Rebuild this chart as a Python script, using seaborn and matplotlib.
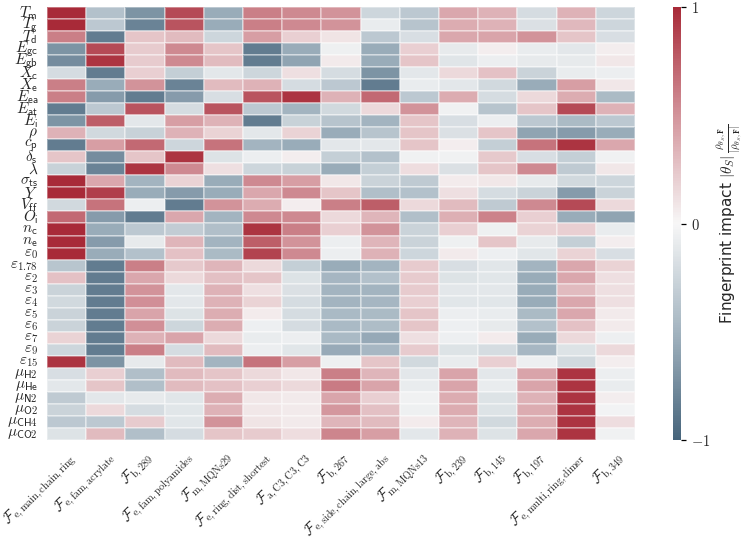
import numpy as np
import pandas as pd
import matplotlib
matplotlib.use("Agg")
import matplotlib.pyplot as plt
import seaborn as sns
from matplotlib.colors import LinearSegmentedColormap

# ---------------- data ----------------
row_labels = [
    r"$T_\mathsf{m}$", r"$T_\mathsf{g}$", r"$T_\mathsf{d}$", r"$E_\mathsf{gc}$", r"$E_\mathsf{gb}$",
    r"$X_\mathsf{c}$", r"$X_\mathsf{e}$", r"$E_\mathsf{ea}$", r"$E_\mathsf{at}$", r"$E_\mathsf{i}$",
    r"$\rho$", r"$c_\mathsf{p}$", r"$\delta_\mathsf{s}$", r"$\lambda$", r"$\sigma_\mathsf{ts}$",
    r"$Y$", r"$V_\mathsf{ff}$", r"$O_\mathsf{i}$", r"$n_\mathsf{c}$", r"$n_\mathsf{e}$",
    r"$\varepsilon_0$", r"$\varepsilon_{1.78}$", r"$\varepsilon_2$", r"$\varepsilon_3$", r"$\varepsilon_4$",
    r"$\varepsilon_5$", r"$\varepsilon_6$", r"$\varepsilon_7$", r"$\varepsilon_9$", r"$\varepsilon_{15}$",
    r"$\mu_\mathsf{H2}$", r"$\mu_\mathsf{He}$", r"$\mu_\mathsf{N2}$", r"$\mu_\mathsf{O2}$",
    r"$\mu_\mathsf{CH4}$", r"$\mu_\mathsf{CO2}$",
]

col_labels = [
    r"$\mathcal{F}_\mathrm{e,main,chain,ring}$",
    r"$\mathcal{F}_\mathrm{e,fam,acrylate}$",
    r"$\mathcal{F}_\mathrm{b,289}$",
    r"$\mathcal{F}_\mathrm{e,fam,polyamides}$",
    r"$\mathcal{F}_\mathrm{m,MQNs29}$",
    r"$\mathcal{F}_\mathrm{e,ring,dist,shortest}$",
    r"$\mathcal{F}_\mathrm{a,C3,C3,C3}$",
    r"$\mathcal{F}_\mathrm{b,267}$",
    r"$\mathcal{F}_\mathrm{e,side,chain,large,abs}$",
    r"$\mathcal{F}_\mathrm{m,MQNs13}$",
    r"$\mathcal{F}_\mathrm{b,239}$",
    r"$\mathcal{F}_\mathrm{b,145}$",
    r"$\mathcal{F}_\mathrm{b,197}$",
    r"$\mathcal{F}_\mathrm{e,multi,ring,dimer}$",
    r"$\mathcal{F}_\mathrm{b,349}$",
]

e_main_chain_ring = [1.0, 1.0, 0.6, -0.7, -0.75, -0.2, 0.6, 0.6, -0.85, -0.7, 0.35, -0.85, 0.25, -0.28,
                     1.0, 1.0, -0.22, 0.7, 1.0, 1.0, 1.0, -0.37, 0.27, -0.27, -0.22, -0.27, -0.27, 0.18,
                     -0.25, 0.95, -0.18, -0.12, -0.33, -0.27, -0.35, -0.15]
e_fam_acrylate = [-0.4, -0.35, -0.85, 0.85, 0.95, -0.85, -0.55, -0.65, -0.35, 0.75, -0.22, 0.45, -0.75, -0.8,
                  0.4, 0.9, 0.65, -0.65, -0.55, -0.65, -0.55, -0.85, -0.85, -0.85, -0.85, -0.85, -0.85, -0.85,
                  -0.85, -0.7, 0.2, 0.25, -0.12, 0.15, -0.35, 0.3]
b_289 = [-0.7, -0.8, 0.25, 0.22, 0.22, 0.2, 0.5, -0.85, 0.8, -0.12, -0.28, 0.7, 0.25, 0.95,
         -0.5, -0.55, -0.07, -0.85, -0.35, -0.1, -0.4, 0.6, 0.4, 0.5, 0.52, 0.42, 0.52, 0.35,
         0.6, -0.1, -0.42, -0.42, -0.1, -0.2, 0.22, -0.42]
e_fam_polyamides = [0.85, 0.8, 0.3, 0.55, 0.55, -0.3, -0.8, -0.65, -0.2, 0.45, 0.35, -0.25, 0.95, 0.55,
                    0.18, -0.65, -0.85, 0.4, -0.32, 0.33, 0.27, 0.23, 0.15, -0.12, -0.12, -0.15, -0.25, 0.42,
                    -0.2, 0.3, 0.3, 0.3, -0.13, -0.13, -0.13, -0.2]
m_MQNs29 = [-0.55, -0.55, -0.25, 0.25, 0.3, -0.12, 0.3, -0.18, 0.8, 0.35, 0.18, 0.65, -0.15, 0.12,
            -0.55, -0.55, 0.5, -0.5, -0.42, -0.5, -0.45, 0.33, 0.28, 0.35, 0.35, 0.37, 0.37, 0.15,
            0.3, -0.5, 0.25, 0.27, 0.37, 0.35, 0.5, 0.25]
e_ring_dist_shortest = [0.6, 0.6, 0.45, -0.85, -0.85, -0.25, 0.35, 0.8, -0.35, -0.85, -0.12, -0.5, -0.07, -0.25,
                        0.55, 0.4, 0.38, 0.55, 0.95, 0.75, 0.88, 0.15, 0.25, 0.12, 0.18, 0.06, -0.06, -0.08,
                        -0.07, 0.65, 0.15, 0.2, 0.08, 0.08, 0.1, 0.22]
a_C3_C3_C3 = [0.55, 0.55, 0.2, -0.55, -0.6, 0.12, -0.2, 0.95, -0.5, -0.28, 0.18, -0.55, 0.05, -0.28,
              0.45, 0.55, 0.05, 0.55, 0.6, 0.5, 0.55, -0.3, -0.15, -0.17, -0.2, -0.2, -0.2, -0.07,
              -0.13, 0.45, 0.08, 0.15, 0.07, 0.07, 0.07, 0.13]
b_267 = [0.5, 0.5, 0.1, -0.05, 0.07, -0.2, -0.35, 0.35, -0.22, -0.38, -0.55, -0.12, -0.3, -0.55,
         0.08, 0.25, 0.6, 0.15, 0.2, -0.07, -0.07, -0.55, -0.48, -0.5, -0.5, -0.46, -0.46, -0.46,
         -0.56, -0.05, 0.6, 0.61, 0.41, 0.48, 0.33, 0.57]
e_side_chain_large_abs = [-0.25, -0.08, -0.35, -0.55, -0.55, -0.7, -0.85, 0.7, 0.15, -0.5, -0.38, -0.12, -0.4, -0.3,
                          -0.27, -0.42, 0.75, 0.33, 0.5, 0.33, 0.35, -0.5, -0.4, -0.5, -0.48, -0.45, -0.43, -0.57,
                          -0.47, 0.25, 0.33, 0.42, 0.2, 0.28, 0.3, 0.45]
m_MQNs13 = [-0.35, -0.38, -0.18, 0.2, 0.25, -0.12, -0.08, -0.35, 0.5, 0.25, 0.25, 0.25, -0.04, 0.13,
            -0.33, -0.4, 0.15, -0.42, -0.27, -0.27, -0.25, 0.22, 0.22, 0.22, 0.2, 0.25, 0.25, 0.12,
            0.22, -0.22, -0.12, -0.08, -0.04, -0.05, 0.06, -0.12]
b_239 = [0.4, 0.38, 0.4, -0.1, -0.14, 0.15, -0.12, 0.38, -0.04, -0.18, -0.17, 0.05, -0.04, -0.17,
         0.06, 0.12, 0.3, 0.36, 0.2, -0.05, 0.07, -0.18, -0.15, -0.12, -0.13, -0.07, -0.06, -0.06,
         -0.15, -0.08, 0.42, 0.42, 0.38, 0.38, 0.33, 0.35]
b_145 = [0.35, 0.35, 0.42, 0.05, -0.07, 0.27, -0.22, -0.2, -0.38, -0.07, 0.25, -0.3, 0.23, 0.25,
         0.08, -0.2, -0.33, 0.58, -0.05, 0.25, -0.06, -0.13, -0.13, -0.12, -0.13, -0.08, -0.1, 0.06,
         -0.2, 0.2, -0.12, -0.08, -0.15, -0.15, -0.22, -0.15]
b_197 = [-0.2, -0.17, 0.5, -0.08, -0.1, -0.27, -0.55, 0.15, 0.25, -0.35, -0.6, 0.65, -0.18, 0.55,
         -0.1, -0.27, 0.55, 0.2, 0.18, -0.1, -0.13, -0.5, -0.55, -0.55, -0.55, -0.45, -0.4, -0.55,
         -0.47, -0.06, 0.42, 0.42, 0.35, 0.38, 0.37, 0.4]
e_multi_ring_dimer = [0.35, 0.32, 0.25, -0.12, -0.1, -0.08, 0.45, 0.38, 0.85, -0.45, -0.65, 0.95, -0.3, -0.33,
                      -0.22, -0.65, 0.85, -0.55, 0.2, -0.3, 0.18, 0.4, 0.4, 0.3, 0.4, 0.4, 0.27, 0.15,
                      -0.15, -0.22, 0.95, 0.95, 0.95, 0.95, 0.95, 0.95]
b_349 = [-0.25, -0.25, -0.18, 0.05, 0.08, -0.07, 0.08, -0.45, 0.35, -0.35, -0.55, 0.4, -0.04, 0.08,
         -0.25, -0.27, 0.15, -0.6, -0.08, 0.05, -0.18, 0.18, 0.12, 0.12, 0.12, 0.07, 0.07, -0.06,
         0.15, 0.05, -0.07, -0.08, 0.05, -0.03, 0.13, -0.04]

columns = [e_main_chain_ring, e_fam_acrylate, b_289, e_fam_polyamides, m_MQNs29,
           e_ring_dist_shortest, a_C3_C3_C3, b_267, e_side_chain_large_abs, m_MQNs13,
           b_239, b_145, b_197, e_multi_ring_dimer, b_349]

df = pd.DataFrame(np.array(columns).T, index=row_labels, columns=col_labels)

cbar_ticks = [-1, 0, 1]
cbar_ticklabels = [r"$-1$", r"$0$", r"$1$"]
cbar_label = (r"Fingerprint impact $|\theta_S|\,"
              r"\frac{\rho_{\theta_S,\mathbf{F}}}{|\rho_{\theta_S,\mathbf{F}}|}$")

# ---------------- style ----------------
sns.set_style("white")
plt.rcParams["font.family"] = ["DejaVu Sans"]
plt.rcParams["mathtext.fontset"] = "cm"

cmap = LinearSegmentedColormap.from_list(
    "div", ["#46647b", "#a3b4c0", "#f7f7f7", "#d3949b", "#a82a38"])

fig = plt.figure(figsize=(7.48, 5.41), dpi=100)
W, H = 748, 541
ax = fig.add_axes([47 / W, (H - 440) / H, 588 / W, 433 / H])
cax = fig.add_axes([673 / W, (H - 440) / H, 8 / W, 433 / H])

sns.heatmap(df, ax=ax, cbar_ax=cax, cmap=cmap, vmin=-1, vmax=1,
            linewidths=0.15, linecolor=(1, 1, 1, 0.35))

ax.tick_params(axis="both", which="major", length=3.5, width=0.9, color="black", pad=3)
ax.set_yticks(np.arange(len(row_labels)) + 0.5)
ax.set_yticklabels(row_labels, rotation=0, fontsize=11)
ax.set_xticks(np.arange(len(col_labels)) + 0.5)
ax.set_xticklabels(col_labels, rotation=45, ha="right", rotation_mode="anchor", fontsize=10.5)

cax.set_yticks(cbar_ticks)
cax.set_yticklabels(cbar_ticklabels, fontsize=10.5)
cax.tick_params(length=3.5, width=0.9, color="black")
cax.set_ylabel(cbar_label, fontsize=11, labelpad=4)

fig.savefig("out.png", dpi=100)
